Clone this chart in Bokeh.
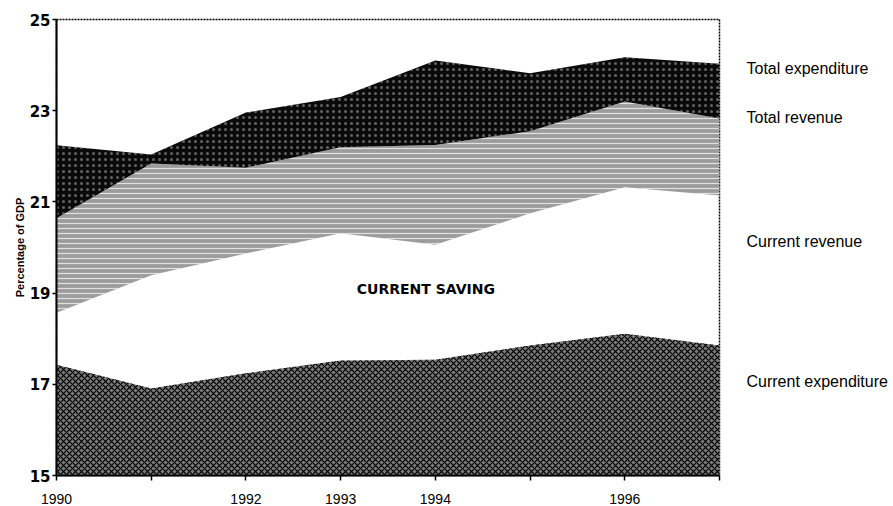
from bokeh.plotting import figure
from bokeh.models import FixedTicker, Label, Range1d, LinearAxis
from bokeh.embed import file_html
from bokeh.resources import INLINE

years = [1990, 1991, 1992, 1993, 1994, 1995, 1996, 1997]
total_expenditure = [22.24, 22.04, 22.96, 23.30, 24.10, 23.82, 24.17, 24.03]
total_revenue = [20.64, 21.84, 21.75, 22.20, 22.25, 22.55, 23.20, 22.83]
current_revenue = [18.57, 19.39, 19.87, 20.31, 20.06, 20.75, 21.32, 21.14]
current_expenditure = [17.43, 16.91, 17.24, 17.52, 17.54, 17.85, 18.11, 17.85]
y_base = 15
x_tick_labels = {1990: "1990", 1991: "", 1992: "1992", 1993: "1993",
                 1994: "1994", 1995: "", 1996: "1996", 1997: ""}
y_ticks = [15, 17, 19, 21, 23, 25]
series_labels = ["Total expenditure", "Total revenue", "Current revenue", "Current expenditure"]
label_y = [23.93, 22.85, 20.13, 17.06]

FONT = "Liberation Sans"

p = figure(width=893, height=506, output_backend="svg", toolbar_location=None,
           x_range=Range1d(1990, 1997), y_range=Range1d(15, 25),
           min_border_left=56, min_border_right=174, min_border_top=19, min_border_bottom=31)

p.background_fill_color = "white"
p.border_fill_color = "white"
p.grid.visible = False
p.outline_line_color = "black"
p.outline_line_width = 1.5
p.outline_line_dash = "2 1"

# bottom band: current expenditure
p.varea(x=years, y1=[y_base] * len(years), y2=current_expenditure,
        fill_color="#7a7a7a", hatch_pattern="diagonal_cross", hatch_color="black",
        hatch_scale=6, hatch_weight=1.2)
# middle band: current revenue -> total revenue
p.varea(x=years, y1=current_revenue, y2=total_revenue,
        fill_color="#9c9c9c", hatch_pattern="horizontal_line", hatch_color="white",
        hatch_scale=5, hatch_weight=1.2, hatch_alpha=0.7)
# top band: total revenue -> total expenditure
p.varea(x=years, y1=total_revenue, y2=total_expenditure,
        fill_color="#0a0a0a", hatch_pattern="dot", hatch_color="#bbbbbb",
        hatch_scale=6, hatch_weight=1, hatch_alpha=0.5)

p.xaxis.ticker = FixedTicker(ticks=years)
p.xaxis.major_label_overrides = x_tick_labels
p.xaxis.minor_tick_line_color = None
p.xaxis.major_tick_out = 5
p.xaxis.major_tick_in = 0
p.xaxis.axis_line_width = 2
p.xaxis.major_tick_line_width = 1.5
p.xaxis.major_label_standoff = 13
p.xaxis.major_label_text_font = FONT
p.xaxis.major_label_text_font_size = "14px"
p.xaxis.major_label_text_color = "black"

p.yaxis.ticker = FixedTicker(ticks=y_ticks)
p.yaxis.minor_tick_line_color = None
p.yaxis.major_tick_out = 4
p.yaxis.major_tick_in = 0
p.yaxis.axis_line_width = 2
p.yaxis.major_tick_line_width = 1.5
p.yaxis.major_label_standoff = 2
p.yaxis.major_label_text_font = "DejaVu Sans"
p.yaxis.major_label_text_font_style = "bold"
p.yaxis.major_label_text_font_size = "15px"
p.yaxis.major_label_text_color = "black"
p.yaxis.axis_label = "Percentage of GDP"
p.yaxis.axis_label_text_font = FONT
p.yaxis.axis_label_text_font_style = "bold"
p.yaxis.axis_label_text_font_size = "11px"
p.yaxis.axis_label_text_color = "black"
p.yaxis.axis_label_standoff = 1

# series names on the right, drawn as an unlined axis so they sit outside the frame
right = LinearAxis(ticker=FixedTicker(ticks=label_y),
                   major_label_overrides={v: t for v, t in zip(label_y, series_labels)},
                   axis_line_color=None, major_tick_line_color=None, minor_tick_line_color=None,
                   major_label_standoff=21, major_label_text_font=FONT,
                   major_label_text_font_size="16px", major_label_text_color="black")
p.add_layout(right, "right")

p.add_layout(Label(x=1993.9, y=19.1, text="CURRENT SAVING", text_align="center",
                   text_baseline="middle", text_font="DejaVu Sans", text_font_style="bold",
                   text_font_size="14px", text_color="black"))

open("out.html", "w").write(file_html(p, INLINE))
